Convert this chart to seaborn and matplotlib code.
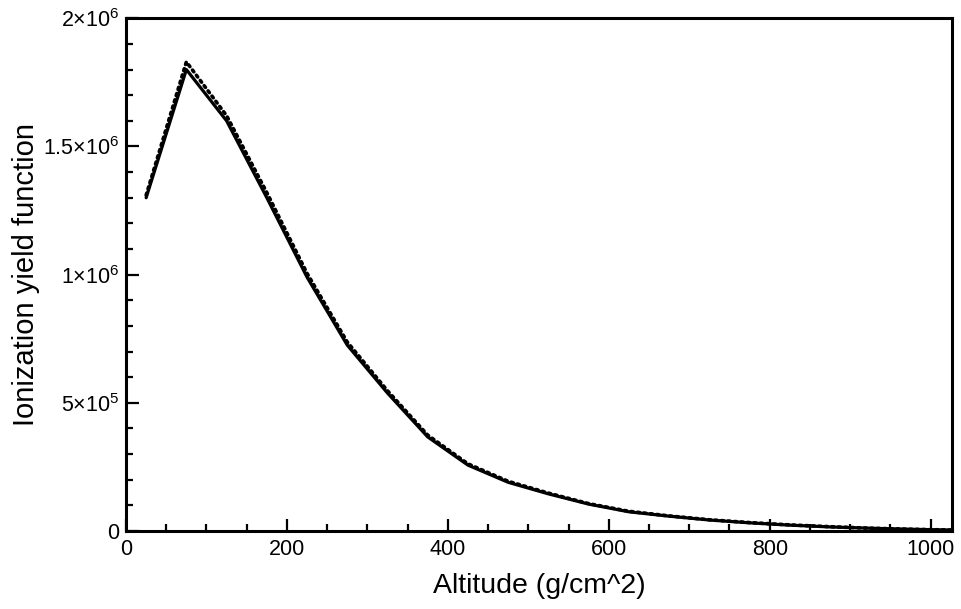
import numpy as np
import pandas as pd
import matplotlib
matplotlib.use("Agg")
import matplotlib.pyplot as plt
from matplotlib.ticker import MultipleLocator, FuncFormatter
import seaborn as sns

# valores
altitude = [25, 75, 125, 175, 225, 275, 325, 375, 425, 475, 525, 575,
            625, 675, 725, 775, 825, 875, 925, 975, 1025]
yield_solid = [1.30e6, 1.80e6, 1.60e6, 1.30e6, 0.99e6, 0.725e6, 0.538e6, 0.367e6,
               0.257e6, 0.190e6, 0.145e6, 0.105e6, 0.075e6, 0.058e6, 0.043e6,
               0.032e6, 0.023e6, 0.016e6, 0.011e6, 0.007e6, 0.004e6]
yield_dotted = [1.31e6, 1.83e6, 1.62e6, 1.32e6, 1.005e6, 0.737e6, 0.547e6, 0.374e6,
                0.262e6, 0.194e6, 0.148e6, 0.107e6, 0.077e6, 0.059e6, 0.044e6,
                0.033e6, 0.024e6, 0.017e6, 0.011e6, 0.007e6, 0.004e6]

df = pd.DataFrame({"alt": altitude, "solid": yield_solid, "dotted": yield_dotted})

sns.set_style("ticks")
plt.rcParams['font.family'] = ['Liberation Sans', 'DejaVu Sans']
plt.rcParams['mathtext.fontset'] = 'custom'
plt.rcParams['mathtext.rm'] = 'Liberation Sans'
plt.rcParams['mathtext.it'] = 'Liberation Sans:italic'
for k in ['axes.edgecolor', 'xtick.color', 'ytick.color', 'text.color', 'axes.labelcolor']:
    plt.rcParams[k] = 'black'

fig = plt.figure(figsize=(9.62, 6.09), dpi=100)
ax = fig.add_axes([0.131, 0.128, 0.859, 0.842])

sns.lineplot(data=df, x="alt", y="dotted", ax=ax, color="black", linewidth=2.6,
             linestyle=(0, (0.6, 1.2)), dash_capstyle="round")
sns.lineplot(data=df, x="alt", y="solid", ax=ax, color="black", linewidth=2.3)

ax.set_xlim(0, 1027)
ax.set_ylim(0, 2e6)
ax.xaxis.set_major_locator(MultipleLocator(200))
ax.xaxis.set_minor_locator(MultipleLocator(50))
ax.yaxis.set_major_locator(MultipleLocator(5e5))
ax.yaxis.set_minor_locator(MultipleLocator(1e5))


def fmt_y(v, pos):
    if v <= 0:
        return "0" if v == 0 else ""
    exp = int(np.floor(np.log10(v)))
    mant = v / 10 ** exp
    m = ("%g" % mant)
    return r"$%s{\times}10^{%d}$" % (m, exp)


ax.yaxis.set_major_formatter(FuncFormatter(fmt_y))

ax.tick_params(which="both", direction="in", top=False, right=False,
               labelsize=15.5, width=1.6)
ax.tick_params(which="major", length=9)
ax.tick_params(axis="x", which="major", pad=6)
ax.tick_params(axis="y", which="major", pad=5)
ax.tick_params(which="minor", length=5)
for s in ax.spines.values():
    s.set_linewidth(2.2)
    s.set_visible(True)

ax.set_xlabel("Altitude (g/cm^2)", fontsize=20.5, labelpad=9)
ax.set_ylabel("Ionization yield function", fontsize=21, labelpad=2)

fig.savefig("out.png", dpi=100)
